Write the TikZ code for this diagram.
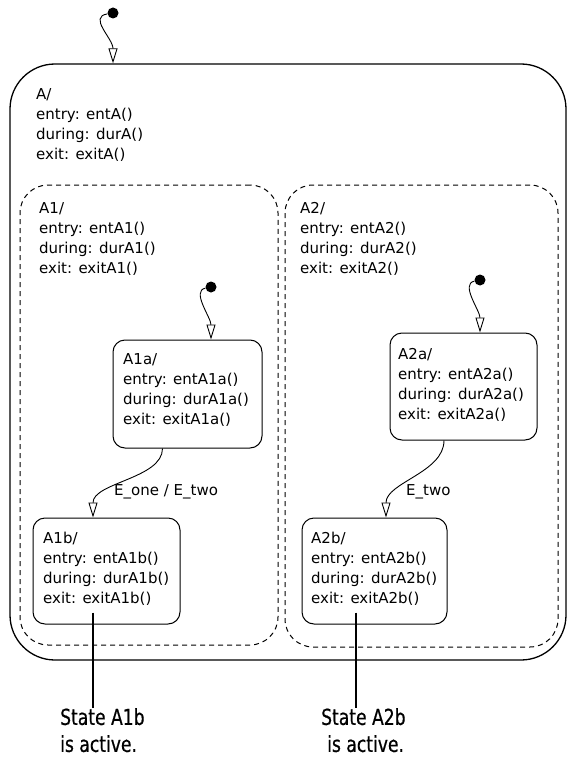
\documentclass[tikz,border=0pt]{standalone}
\usepackage{fontspec}
\setmainfont{DejaVu Sans}
\newfontfamily\calloutfont[FakeStretch=0.78, FakeBold=0.6]{DejaVu Sans}
\usetikzlibrary{arrows.meta}

\begin{document}
\begin{tikzpicture}[x=1pt, y=-1pt,
    superstate/.style={draw, rounded corners=45pt, line width=1.3pt, inner sep=0pt},
    orstate/.style={draw, line width=1pt, dash pattern=on 5pt off 4pt, rounded corners=28pt, inner sep=0pt},
    leafstate/.style={draw, line width=1pt, rounded corners=12pt, inner sep=0pt},
    actions/.style={anchor=north west, inner sep=0pt, align=left, font=\fontsize{15}{20}\selectfont},
    initdot/.style={circle, fill, inner sep=0pt, minimum size=11pt},
    trans/.style={line width=0.9pt, -{Triangle[open, length=15pt, width=9pt]}},
    evlabel/.style={anchor=west, inner sep=0pt, font=\fontsize{15}{20}\selectfont},
    callout/.style={line width=2pt},
    note/.style={anchor=north west, inner sep=0pt, align=left, font=\calloutfont\fontsize{22}{27}\selectfont}]
  \useasboundingbox (0,0) rectangle (567,757);

  % states
  \node[superstate, minimum width=556pt, minimum height=596pt] (A) at (288,362) {};
  \node[orstate, minimum width=258pt, minimum height=460pt] (A1) at (149,415) {};
  \node[orstate, minimum width=273pt, minimum height=462pt] (A2) at (421.5,416) {};
  \node[leafstate, minimum width=149pt, minimum height=108pt] (A1a) at (187.5,394) {};
  \node[leafstate, minimum width=147pt, minimum height=107pt] (A2a) at (463.5,386.5) {};
  \node[leafstate, minimum width=147pt, minimum height=106pt] (A1b) at (106.5,571) {};
  \node[leafstate, minimum width=145pt, minimum height=106pt] (A2b) at (374.5,571) {};

  % state actions
  \node[actions] (A-txt) at (36,88) {A/\\entry: entA()\\during: durA()\\exit: exitA()};
  \node[actions] (A1-txt) at (39,202) {A1/\\entry: entA1()\\during: durA1()\\exit: exitA1()};
  \node[actions] (A2-txt) at (300,202) {A2/\\entry: entA2()\\during: durA2()\\exit: exitA2()};
  \node[actions] (A1a-txt) at (123,353) {A1a/\\entry: entA1a()\\during: durA1a()\\exit: exitA1a()};
  \node[actions] (A2a-txt) at (398,348) {A2a/\\entry: entA2a()\\during: durA2a()\\exit: exitA2a()};
  \node[actions] (A1b-txt) at (43,532) {A1b/\\entry: entA1b()\\during: durA1b()\\exit: exitA1b()};
  \node[actions] (A2b-txt) at (311,532) {A2b/\\entry: entA2b()\\during: durA2b()\\exit: exitA2b()};

  % default transitions
  \node[initdot] (dA) at (113,13) {};
  \node[initdot] (dA1) at (211,287) {};
  \node[initdot] (dA2) at (480,280) {};
  \draw[trans] (dA) .. controls +(-25,4) and +(0,-25) .. (A.north -| dA);
  \draw[trans] (dA1) .. controls +(-20,4) and +(0,-22) .. (A1a.north -| dA1);
  \draw[trans] (dA2) .. controls +(-20,4) and +(0,-22) .. (A2a.north -| dA2);

  % event transitions
  \draw[trans] ([xshift=-25pt]A1a.south) .. controls +(0,30) and +(0,-35) .. ([xshift=-13.5pt]A1b.north);
  \draw[trans] ([xshift=-19.5pt]A2a.south) .. controls +(0,32) and +(0,-35) .. ([xshift=11.5pt]A2b.north);
  \node[evlabel] (e1) at (114,492) {E\_one / E\_two};
  \node[evlabel] (e2) at (406,492) {E\_two};

  % callouts
  \node[note] (s1) at (60,708) {State A1b\\is active.};
  \node[note] (s2) at (321,708) {State A2b\\\hspace{6pt}is active.};
  \draw[callout] ([xshift=-14pt,yshift=12pt]A1b.south) coordinate (c1) -- (c1 |- s1.north);
  \draw[callout] ([xshift=-18.5pt,yshift=12pt]A2b.south) coordinate (c2) -- (c2 |- s2.north);
\end{tikzpicture}
\end{document}
